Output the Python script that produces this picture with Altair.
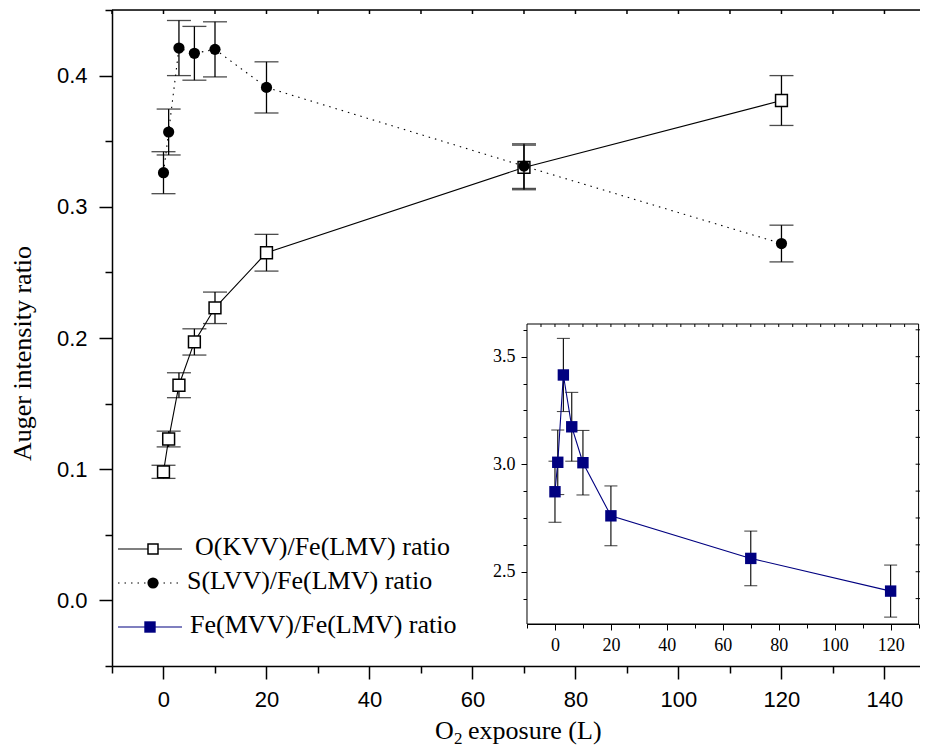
import altair as alt
import pandas as pd

# ---------------- data ----------------
exposure = [0, 1, 3, 6, 10, 20, 70, 120]
o_ratio = [0.098, 0.123, 0.164, 0.197, 0.223, 0.265, 0.330, 0.381]
o_err = [0.005, 0.006, 0.0095, 0.010, 0.012, 0.014, 0.017, 0.019]
s_ratio = [0.326, 0.357, 0.421, 0.417, 0.420, 0.391, 0.331, 0.272]
s_err = [0.016, 0.0175, 0.021, 0.0205, 0.021, 0.0195, 0.017, 0.014]
fe_ratio = [2.872, 3.009, 3.415, 3.174, 3.007, 2.760, 2.562, 2.410]
fe_err = [0.142, 0.150, 0.170, 0.160, 0.150, 0.139, 0.127, 0.121]
series_names = ["O(KVV)/Fe(LMV) ratio", "S(LVV)/Fe(LMV) ratio", "Fe(MVV)/Fe(LMV) ratio"]
x_title_parts = ["O", "2", "exposure (L)"]
y_title = "Auger intensity ratio"

main_x_ticks = [-10, 0, 10, 20, 30, 40, 50, 60, 70, 80, 90, 100, 110, 120, 130, 140]
main_y_ticks = [-0.05, 0.0, 0.05, 0.1, 0.15, 0.2, 0.25, 0.3, 0.35, 0.4, 0.45]
inset_x_ticks = [-10, 0, 10, 20, 30, 40, 50, 60, 70, 80, 90, 100, 110, 120, 130]
inset_top_ticks = [-5, 0, 5, 10, 15, 20, 25, 30, 35, 40, 45, 50, 55, 60, 65, 70,
                   75, 80, 85, 90, 95, 100, 105, 110, 115, 120, 125]
inset_y_ticks = [2.375, 2.5, 2.625, 2.75, 2.875, 3.0, 3.125, 3.25, 3.375, 3.5, 3.625]

df = pd.DataFrame({"x": exposure, "o": o_ratio, "s": s_ratio, "fe": fe_ratio})
df["o_lo"] = df["o"] - pd.Series(o_err)
df["o_hi"] = df["o"] + pd.Series(o_err)
df["s_lo"] = df["s"] - pd.Series(s_err)
df["s_hi"] = df["s"] + pd.Series(s_err)
df["fe_lo"] = df["fe"] - pd.Series(fe_err)
df["fe_hi"] = df["fe"] + pd.Series(fe_err)

W, H = 808, 656
SANS = "Liberation Sans"
SERIF = "Liberation Serif"
NAVY = "#000080"

# ---------------- main axes ----------------
x_scale = alt.Scale(domain=[-10, 146.9], nice=False, zero=False)
y_scale = alt.Scale(domain=[-0.05, 0.45], nice=False, zero=False)

x_axis = alt.Axis(
    values=main_x_ticks,
    labelExpr="datum.value % 20 === 0 ? datum.label : ''",
    tickSize={"condition": {"test": "datum.value % 20 === 0", "value": 13}, "value": 7},
    tickWidth=1.5, domainWidth=1.5, tickColor="black", domainColor="black",
    labelFont=SANS, labelFontSize=22, labelColor="black", labelPadding=10,
    grid=False, title=None,
)
y_axis = alt.Axis(
    values=main_y_ticks,
    labelExpr="abs(round(datum.value*100)) % 10 === 0 ? format(datum.value, '.1f') : ''",
    tickSize={"condition": {"test": "abs(round(datum.value*100)) % 10 === 0", "value": 13}, "value": 7},
    tickWidth=1.5, domainWidth=1.5, tickColor="black", domainColor="black",
    labelFont=SANS, labelFontSize=22, labelColor="black", labelPadding=12,
    grid=False, titleFont=SERIF, titleFontSize=26, titleFontWeight="normal",
    titleColor="black", titleX=-90, titleY=343, titleAngle=270,
    titleBaseline="middle", titleAlign="center",
)

X = alt.X("x:Q", scale=x_scale, axis=x_axis)


def Ym(field):
    return alt.Y(f"{field}:Q", scale=y_scale, axis=y_axis, title=y_title)


base = alt.Chart(df)

o_rule = base.mark_rule(color="black", strokeWidth=1.3).encode(x=X, y=Ym("o_lo"), y2="o_hi:Q")
o_cap1 = base.mark_tick(orient="horizontal", size=24, thickness=1.3, color="black").encode(x=X, y=Ym("o_lo"))
o_cap2 = base.mark_tick(orient="horizontal", size=24, thickness=1.3, color="black").encode(x=X, y=Ym("o_hi"))
o_line = base.mark_line(color="black", strokeWidth=1.1).encode(x=X, y=Ym("o"))
o_pts = base.mark_point(shape="square", size=140, filled=True, fill="white",
                        stroke="black", strokeWidth=1.5, opacity=1).encode(x=X, y=Ym("o"))

s_rule = base.mark_rule(color="black", strokeWidth=1.3).encode(x=X, y=Ym("s_lo"), y2="s_hi:Q")
s_cap1 = base.mark_tick(orient="horizontal", size=24, thickness=1.3, color="black").encode(x=X, y=Ym("s_lo"))
s_cap2 = base.mark_tick(orient="horizontal", size=24, thickness=1.3, color="black").encode(x=X, y=Ym("s_hi"))
s_line = base.mark_line(color="black", strokeWidth=1.1, strokeDash=[1.5, 5]).encode(x=X, y=Ym("s"))
s_pts = base.mark_point(shape="circle", size=125, filled=True, color="black", opacity=1).encode(x=X, y=Ym("s"))

one = pd.DataFrame({"k": [0]})
top_border = alt.Chart(one).mark_rule(color="black", strokeWidth=1.5).encode(
    x=alt.value(0), x2=alt.value(W), y=alt.value(0))
top_ticks = alt.Chart(pd.DataFrame({"x": main_x_ticks})).mark_rule(color="black", strokeWidth=1.5).encode(
    x=X, y=alt.value(0), y2=alt.value(4))

# x-axis title with a real subscript
xt = alt.Chart(pd.DataFrame({"t": [x_title_parts[0]]})).mark_text(
    align="left", baseline="alphabetic", font=SERIF, fontSize=26, color="black").encode(
    x=alt.value(323), y=alt.value(729), text="t:N")
xt2 = alt.Chart(pd.DataFrame({"t": [x_title_parts[1]]})).mark_text(
    align="left", baseline="alphabetic", font=SERIF, fontSize=17, color="black").encode(
    x=alt.value(342), y=alt.value(734), text="t:N")
xt3 = alt.Chart(pd.DataFrame({"t": [x_title_parts[2]]})).mark_text(
    align="left", baseline="alphabetic", font=SERIF, fontSize=26, color="black").encode(
    x=alt.value(356), y=alt.value(729), text="t:N")

# legend (drawn by hand inside the main plot)
leg = []
ly = [539, 573, 617]
for i, name in enumerate(series_names):
    d = alt.Chart(pd.DataFrame({"label": [name]}))
    if i == 0:
        leg.append(d.mark_rule(color="black", strokeWidth=1.1).encode(
            x=alt.value(6), x2=alt.value(70), y=alt.value(ly[i])))
        leg.append(d.mark_point(shape="square", size=100, filled=True, fill="white",
                                stroke="black", strokeWidth=1.5, opacity=1).encode(
            x=alt.value(41), y=alt.value(ly[i])))
        tx = 83
    elif i == 1:
        leg.append(d.mark_rule(color="black", strokeWidth=1.1, strokeDash=[1.5, 5]).encode(
            x=alt.value(6), x2=alt.value(70), y=alt.value(ly[i])))
        leg.append(d.mark_point(shape="circle", size=125, filled=True, color="black", opacity=1).encode(
            x=alt.value(41), y=alt.value(ly[i])))
        tx = 75
    else:
        leg.append(d.mark_rule(color=NAVY, strokeWidth=1.1).encode(
            x=alt.value(6), x2=alt.value(70), y=alt.value(ly[i])))
        leg.append(d.mark_point(shape="square", size=130, filled=True, color=NAVY, opacity=1).encode(
            x=alt.value(38), y=alt.value(ly[i])))
        tx = 78
    leg.append(d.mark_text(align="left", baseline="middle", font=SERIF, fontSize=26, color="black").encode(
        x=alt.value(tx), y=alt.value(ly[i] - 2), text="label:N"))

main = alt.layer(top_border, top_ticks, o_rule, o_cap1, o_cap2, o_line, o_pts,
                 s_rule, s_cap1, s_cap2, s_line, s_pts, xt, xt2, xt3, *leg)

# ---------------- inset ----------------
IX0, IX1, IY0, IY1 = 415, 806.6, 314, 614
xi_scale = alt.Scale(domain=[-10, 130], range=[IX0, IX1], nice=False, zero=False)
yi_scale = alt.Scale(domain=[2.257, 3.652], range=[IY1, IY0], nice=False, zero=False)
xi_axis = alt.Axis(
    orient="bottom", offset=IY1 - H, values=inset_x_ticks,
    labelExpr="datum.value % 20 === 0 ? datum.label : ''",
    tickSize={"condition": {"test": "datum.value % 20 === 0", "value": 6}, "value": 4},
    tickWidth=1, domainWidth=1, tickColor="black", domainColor="black",
    labelFont=SERIF, labelFontSize=18, labelColor="black", labelPadding=6,
    grid=False, title=None,
)
yi_axis = alt.Axis(
    orient="left", offset=-IX0, values=inset_y_ticks,
    labelExpr="round(datum.value*1000) % 500 === 0 ? format(datum.value, '.1f') : ''",
    tickSize={"condition": {"test": "round(datum.value*1000) % 500 === 0", "value": 6}, "value": 4},
    tickWidth=1, domainWidth=1, tickColor="black", domainColor="black",
    labelFont=SERIF, labelFontSize=18, labelColor="black", labelPadding=6,
    grid=False, title=None,
)
XI = alt.X("x:Q", scale=xi_scale, axis=xi_axis)


def Yi(field):
    return alt.Y(f"{field}:Q", scale=yi_scale, axis=yi_axis)


frame = alt.Chart(one).mark_rect(fill="white", stroke="black", strokeWidth=1).encode(
    x=alt.value(IX0), x2=alt.value(IX1), y=alt.value(IY0), y2=alt.value(IY1))
in_top_ticks = alt.Chart(pd.DataFrame({"x": inset_top_ticks})).mark_rule(color="black", strokeWidth=1).encode(
    x=XI, y=alt.value(IY0), y2=alt.value(IY0 + 3))
in_right_ticks = alt.Chart(pd.DataFrame({"fe": inset_y_ticks})).mark_rule(color="black", strokeWidth=1).encode(
    y=Yi("fe"), x=alt.value(IX1 - 3), x2=alt.value(IX1 + 2))
fe_rule = base.mark_rule(color="black", strokeWidth=1.1).encode(x=XI, y=Yi("fe_lo"), y2="fe_hi:Q")
fe_cap1 = base.mark_tick(orient="horizontal", size=13, thickness=1.1, color="black").encode(x=XI, y=Yi("fe_lo"))
fe_cap2 = base.mark_tick(orient="horizontal", size=13, thickness=1.1, color="black").encode(x=XI, y=Yi("fe_hi"))
fe_line = base.mark_line(color=NAVY, strokeWidth=1.1).encode(x=XI, y=Yi("fe"))
fe_pts = base.mark_point(shape="square", size=130, filled=True, color=NAVY, opacity=1).encode(x=XI, y=Yi("fe"))

inset = alt.layer(frame, in_top_ticks, in_right_ticks, fe_rule, fe_cap1, fe_cap2, fe_line, fe_pts)

chart = (
    alt.layer(main, inset)
    .resolve_scale(x="independent", y="independent")
    .properties(width=W, height=H, autosize=alt.AutoSizeParams(type="none"),
                padding={"left": 104, "top": 2, "right": 0, "bottom": 82})
    .configure_view(stroke=None)
    .configure(background="white")
)

chart.save("out.html", embed_options={"renderer": "svg", "actions": False})
